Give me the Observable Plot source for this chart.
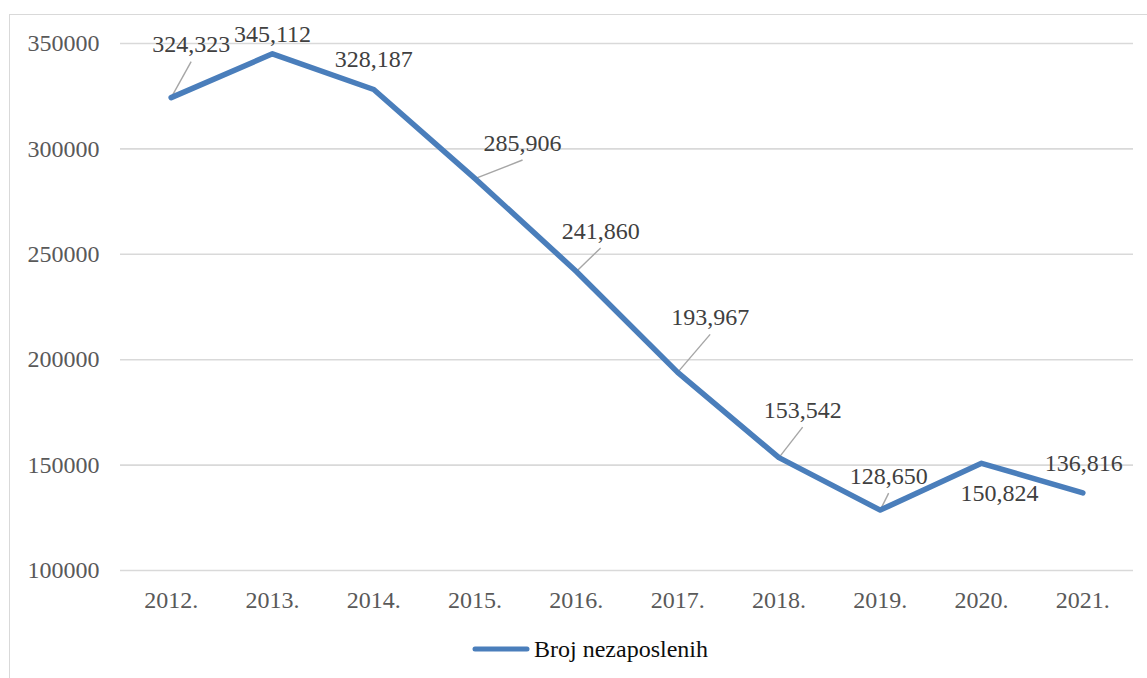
<!DOCTYPE html>
<html>
<head>
<meta charset="utf-8">
<script src="https://cdn.jsdelivr.net/npm/d3@7"></script>
<script src="https://cdn.jsdelivr.net/npm/@observablehq/plot@0.6"></script>
<style>
  html, body { margin: 0; padding: 0; background: #fff; overflow: hidden; width: 1147px; height: 678px; }
  #frame { position: absolute; left: 9px; top: 14px; width: 1200px; height: 720px; border: 1.5px solid #d9d9d9; box-sizing: border-box; }
  #chart { position: absolute; left: 0; top: 0; }
  #legend { position: absolute; left: 472px; top: 634px; height: 30px; display: flex; align-items: center;
            font-family: "Liberation Serif", "Times New Roman", serif; font-size: 24px; color: #0d0d0d; }
  #legend svg { margin-right: 4px; }
</style>
</head>
<body>
<div id="frame"></div>
<div id="chart"></div>
<div id="legend"><svg width="58" height="12"><line x1="3" y1="6" x2="55" y2="6" stroke="#4a7ebb" stroke-width="5" stroke-linecap="round"/></svg><span id="legendText"></span></div>
<script>
// ---- data ----
const years = ["2012.", "2013.", "2014.", "2015.", "2016.", "2017.", "2018.", "2019.", "2020.", "2021."];
const unemployed = [324323, 345112, 328187, 285906, 241860, 193967, 153542, 128650, 150824, 136816];
const yTicks = [100000, 150000, 200000, 250000, 300000, 350000];
const seriesName = "Broj nezaposlenih";

// ---- label placement (pixel offsets from each point, as positioned in the original) ----
const labelDx = [20, 0, 0, 47.5, 24.3, 32.5, 23.7, 8.4, 18, 0.8];
const labelDy = [-53, -19, -30, -35.6, -40.5, -55, -47.5, -34, 30, -30];
const hasLeader = [true, false, false, true, true, true, true, true, false, false];

document.getElementById("legendText").textContent = seriesName;

// ---- layout ----
const W = 1147, H = 620;
const mL = 120, mR = 14, mT = 43, mB = 50;
const yMin = 100000, yMax = 350000;
const pxPerCat = (W - mL - mR) / years.length;
const valPerPx = (yMax - yMin) / (H - mT - mB);

const data = years.map((y, i) => ({i, year: y, value: unemployed[i]}));
const labels = data.map(d => ({
  ...d,
  lx: d.i + labelDx[d.i] / pxPerCat,
  ly: d.value - labelDy[d.i] * valPerPx
}));
const leaders = labels.filter(d => hasLeader[d.i]).map(d => ({
  x1: d.i, y1: d.value,
  x2: d.lx, y2: d.ly - 17 * valPerPx
}));
const fmt = d3.format(",");
const font = '"Liberation Serif", "Times New Roman", serif';

const chart = Plot.plot({
  width: W, height: H,
  marginLeft: mL, marginRight: mR, marginTop: mT, marginBottom: mB,
  style: {fontFamily: font, fontSize: "24px", color: "#595959", background: "transparent", overflow: "visible"},
  x: {type: "linear", domain: [-0.5, years.length - 0.5]},
  y: {domain: [yMin, yMax]},
  marks: [
    Plot.ruleY(yTicks, {stroke: "#d9d9d9", strokeWidth: 1.6}),
    Plot.axisY({ticks: yTicks, tickSize: 0, tickPadding: 21, tickFormat: "d", label: null, fontSize: 24}),
    Plot.axisX({ticks: d3.range(years.length), tickSize: 0, tickPadding: 20, tickFormat: i => years[i], label: null, fontSize: 24}),
    Plot.link(leaders, {x1: "x1", y1: "y1", x2: "x2", y2: "y2", stroke: "#a6a6a6", strokeWidth: 1.4}),
    Plot.line(data, {x: "i", y: "value", stroke: "#4a7ebb", strokeWidth: 5.5, strokeLinecap: "round", strokeLinejoin: "round"}),
    Plot.text(labels, {x: "lx", y: "ly", text: d => fmt(d.value), fill: "#404040", fontSize: 24, fontFamily: font, textAnchor: "middle", lineAnchor: "middle"})
  ]
});
document.getElementById("chart").appendChild(chart);
</script>
</body>
</html>
